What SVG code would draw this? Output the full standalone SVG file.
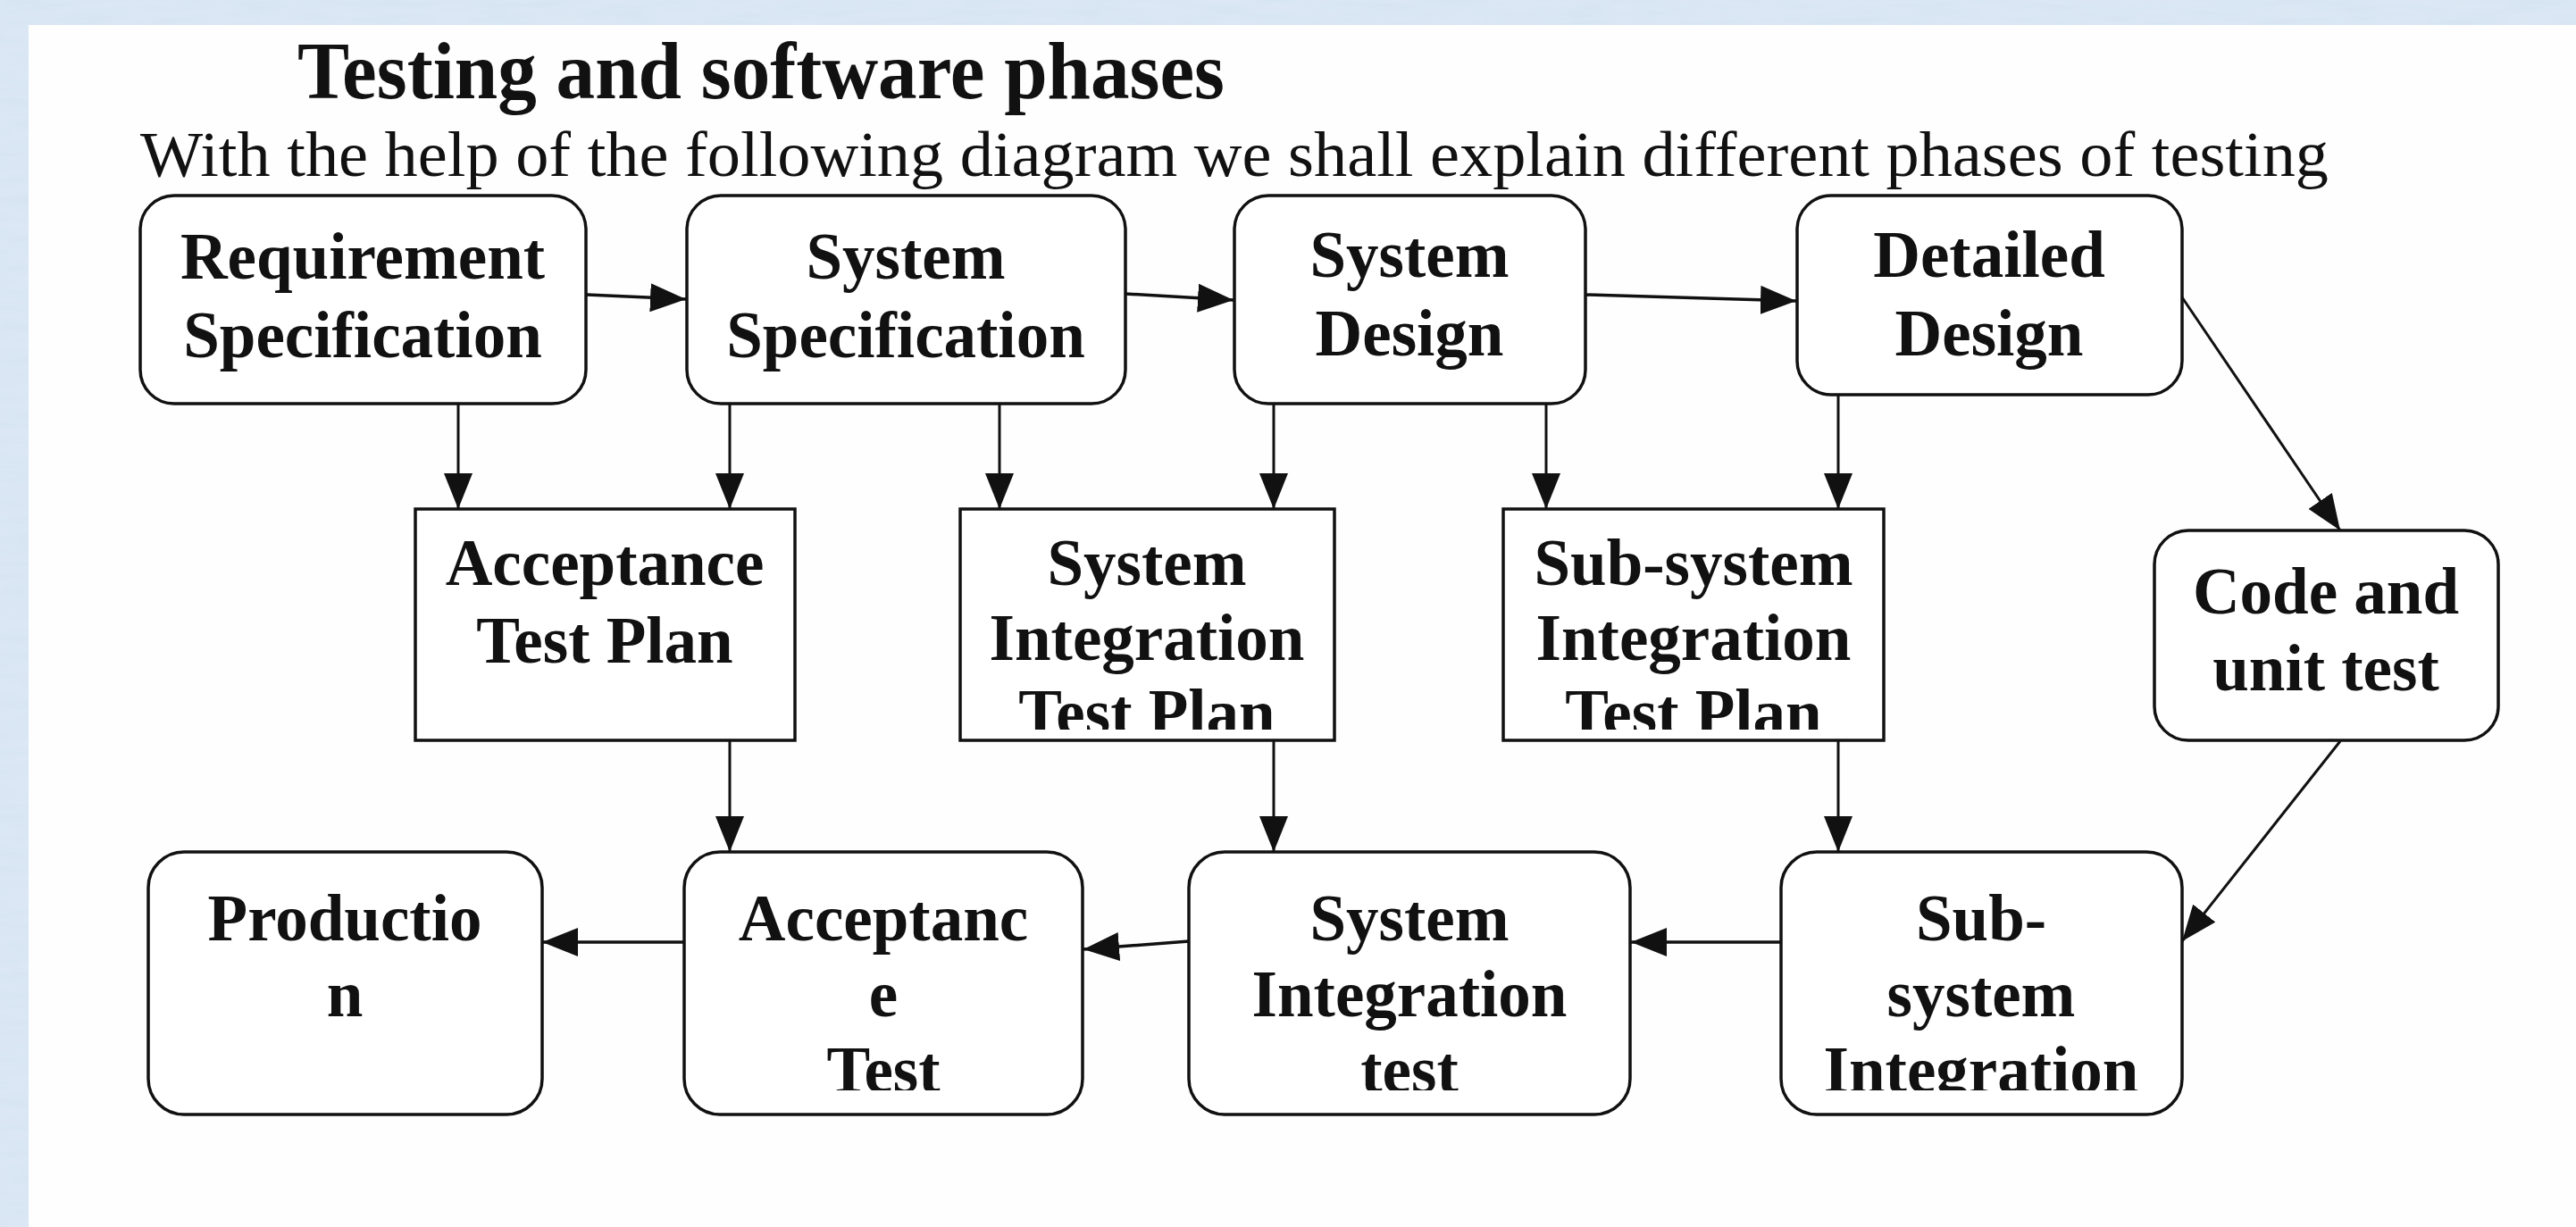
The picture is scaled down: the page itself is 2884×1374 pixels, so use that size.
<svg xmlns="http://www.w3.org/2000/svg" width="2884" height="1374" viewBox="0 0 2884 1374">
  <defs>
    <style>
      .box { fill: #ffffff; stroke: #111111; stroke-width: 3.5; }
      .lbl { font-family: "Liberation Serif", "Times New Roman", serif; font-weight: bold; font-size: 73px; fill: #111111; text-anchor: middle; }
      .title { font-family: "Liberation Serif", "Times New Roman", serif; font-weight: bold; font-size: 90px; fill: #111111; }
      .sub { font-family: "Liberation Serif", "Times New Roman", serif; font-size: 71px; fill: #111111; }
      .conn { stroke: #111111; stroke-width: 3.5; fill: none; }
      .thin { stroke-width: 3; }
    </style>
    <marker id="ah" markerUnits="userSpaceOnUse" markerWidth="40" markerHeight="32" refX="40" refY="16" orient="auto">
      <path d="M0,0 L40,16 L0,32 z" fill="#111111"/>
    </marker>
    <filter id="tex" x="0" y="0" width="100%" height="100%">
      <feTurbulence type="fractalNoise" baseFrequency="0.015 0.1" numOctaves="3" seed="4" result="n"/>
      <feColorMatrix in="n" type="matrix" values="0 0 0 0 0.74  0 0 0 0 0.82  0 0 0 0 0.92  0 0 0 0.9 -0.1"/>
    </filter>
    <clipPath id="clipRow2"><rect x="0" y="0" width="2884" height="817"/></clipPath>
    <clipPath id="clipRow3"><rect x="0" y="0" width="2884" height="1221"/></clipPath>
  </defs>

  <!-- background -->
  <rect x="0" y="0" width="2884" height="1374" fill="#d6e4f2"/>
  <rect x="0" y="0" width="2884" height="1374" filter="url(#tex)"/>
  <rect x="32" y="28" width="2852" height="1346" fill="#fefefe"/>

  <!-- heading -->
  <text class="title" x="333" y="110" textLength="1038" lengthAdjust="spacingAndGlyphs">Testing and software phases</text>
  <text class="sub" x="157" y="197" textLength="2450" lengthAdjust="spacingAndGlyphs">With the help of the following diagram we shall explain different phases of testing</text>

  <!-- connectors -->
  <g id="connectors">
    <line class="conn" x1="657" y1="330" x2="768" y2="335" marker-end="url(#ah)"/>
    <line class="conn" x1="1260" y1="329" x2="1381" y2="336" marker-end="url(#ah)"/>
    <line class="conn" x1="1775" y1="330" x2="2011" y2="337" marker-end="url(#ah)"/>
    <line class="conn thin" x1="2443" y1="333" x2="2620" y2="594" marker-end="url(#ah)"/>
    <line class="conn thin" x1="2620" y1="830" x2="2443" y2="1054" marker-end="url(#ah)"/>

    <line class="conn thin" x1="513" y1="452" x2="513" y2="570" marker-end="url(#ah)"/>
    <line class="conn thin" x1="817" y1="452" x2="817" y2="570" marker-end="url(#ah)"/>
    <line class="conn thin" x1="1119" y1="452" x2="1119" y2="570" marker-end="url(#ah)"/>
    <line class="conn thin" x1="1426" y1="452" x2="1426" y2="570" marker-end="url(#ah)"/>
    <line class="conn thin" x1="1731" y1="452" x2="1731" y2="570" marker-end="url(#ah)"/>
    <line class="conn thin" x1="2058" y1="442" x2="2058" y2="570" marker-end="url(#ah)"/>

    <line class="conn thin" x1="817" y1="829" x2="817" y2="954" marker-end="url(#ah)"/>
    <line class="conn thin" x1="1426" y1="829" x2="1426" y2="954" marker-end="url(#ah)"/>
    <line class="conn thin" x1="2058" y1="829" x2="2058" y2="954" marker-end="url(#ah)"/>

    <line class="conn" x1="1994" y1="1055" x2="1826" y2="1055" marker-end="url(#ah)"/>
    <line class="conn" x1="1331" y1="1054" x2="1213" y2="1063" marker-end="url(#ah)"/>
    <line class="conn" x1="766" y1="1055" x2="607" y2="1055" marker-end="url(#ah)"/>
  </g>

  <!-- row 1 -->
  <g id="req-spec">
    <rect class="box" x="157" y="219" width="499" height="233" rx="38" ry="38"/>
    <text class="lbl" x="406" y="312">Requirement</text>
    <text class="lbl" x="406" y="400">Specification</text>
  </g>
  <g id="sys-spec">
    <rect class="box" x="769" y="219" width="491" height="233" rx="38" ry="38"/>
    <text class="lbl" x="1014" y="312">System</text>
    <text class="lbl" x="1014" y="400">Specification</text>
  </g>
  <g id="sys-design">
    <rect class="box" x="1382" y="219" width="393" height="233" rx="38" ry="38"/>
    <text class="lbl" x="1578" y="310">System</text>
    <text class="lbl" x="1578" y="398">Design</text>
  </g>
  <g id="detailed-design">
    <rect class="box" x="2012" y="219" width="431" height="223" rx="38" ry="38"/>
    <text class="lbl" x="2227" y="310">Detailed</text>
    <text class="lbl" x="2227" y="398">Design</text>
  </g>

  <!-- row 2 -->
  <g id="acceptance-test-plan">
    <rect class="box" x="465" y="570" width="425" height="259"/>
    <text class="lbl" x="677" y="655">Acceptance</text>
    <text class="lbl" x="677" y="742">Test Plan</text>
  </g>
  <g id="system-integration-test-plan">
    <rect class="box" x="1075" y="570" width="419" height="259"/>
    <g clip-path="url(#clipRow2)">
      <text class="lbl" x="1284" y="655">System</text>
      <text class="lbl" x="1284" y="739">Integration</text>
      <text class="lbl" x="1284" y="823">Test Plan</text>
    </g>
  </g>
  <g id="subsystem-integration-test-plan">
    <rect class="box" x="1683" y="570" width="426" height="259"/>
    <g clip-path="url(#clipRow2)">
      <text class="lbl" x="1896" y="655">Sub-system</text>
      <text class="lbl" x="1896" y="739">Integration</text>
      <text class="lbl" x="1896" y="823">Test Plan</text>
    </g>
  </g>
  <g id="code-unit-test">
    <rect class="box" x="2412" y="594" width="385" height="235" rx="38" ry="38"/>
    <text class="lbl" x="2604" y="687">Code and</text>
    <text class="lbl" x="2604" y="773">unit test</text>
  </g>

  <!-- row 3 -->
  <g id="production">
    <rect class="box" x="166" y="954" width="441" height="294" rx="40" ry="40"/>
    <text class="lbl" x="386" y="1053">Productio</text>
    <text class="lbl" x="386" y="1138">n</text>
  </g>
  <g id="acceptance-test">
    <rect class="box" x="766" y="954" width="446" height="294" rx="40" ry="40"/>
    <g clip-path="url(#clipRow3)">
      <text class="lbl" x="989" y="1053">Acceptanc</text>
      <text class="lbl" x="989" y="1138">e</text>
      <text class="lbl" x="989" y="1223">Test</text>
    </g>
  </g>
  <g id="system-integration-test">
    <rect class="box" x="1331" y="954" width="494" height="294" rx="40" ry="40"/>
    <g clip-path="url(#clipRow3)">
      <text class="lbl" x="1578" y="1053">System</text>
      <text class="lbl" x="1578" y="1138">Integration</text>
      <text class="lbl" x="1578" y="1223">test</text>
    </g>
  </g>
  <g id="subsystem-integration">
    <rect class="box" x="1994" y="954" width="449" height="294" rx="40" ry="40"/>
    <g clip-path="url(#clipRow3)">
      <text class="lbl" x="2218" y="1053">Sub-</text>
      <text class="lbl" x="2218" y="1138">system</text>
      <text class="lbl" x="2218" y="1223">Integration</text>
    </g>
  </g>
</svg>
